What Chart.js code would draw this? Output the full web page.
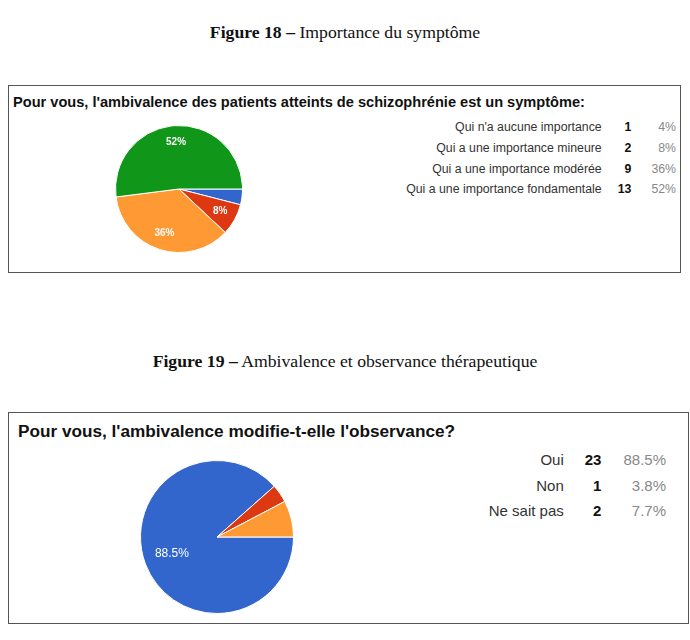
<!DOCTYPE html>
<html>
<head>
<meta charset="utf-8">
<script src="https://cdn.jsdelivr.net/npm/chart.js@4/dist/chart.umd.min.js"></script>
<style>
  html, body { margin: 0; padding: 0; background: #fff; }
  body { width: 690px; height: 640px; position: relative; overflow: hidden; font-family: "Liberation Sans", Arial, sans-serif; }
  .caption { position: absolute; left: 0; width: 690px; text-align: center; font-family: "Liberation Serif", "Times New Roman", serif; font-size: 17.7px; color: #111; }
  .caption b { font-weight: bold; }
  .box { position: absolute; border: 1.5px solid #555; box-sizing: border-box; }
  .box h2 { position: absolute; margin: 0; font-weight: bold; color: #111; white-space: nowrap; }
  .pie { position: absolute; }
  table.legend { position: absolute; border-collapse: collapse; }
  table.legend td { padding: 0; white-space: nowrap; text-align: right; }
  td.lab { color: #333; }
  td.cnt { color: #111; font-weight: bold; }
  td.pct { color: #888; }
</style>
</head>
<body>

<div class="caption" style="top:22px"><b>Figure 18 –</b> Importance du symptôme</div>
<div class="box" style="left:8px; top:85px; width:673px; height:188px">
  <h2 style="left:4px; top:8px; font-size:14.6px">Pour vous, l'ambivalence des patients atteints de schizophrénie est un symptôme:</h2>
</div>
<canvas id="pie1" class="pie" width="130" height="130" style="left:114px; top:124px"></canvas>
<table id="leg1" class="legend" style="right:14px; top:117px; font-size:12.3px"></table>

<div class="caption" style="top:351px"><b>Figure 19 –</b> Ambivalence et observance thérapeutique</div>
<div class="box" style="left:8px; top:412px; width:681px; height:212px">
  <h2 style="left:9px; top:8px; font-size:17.2px">Pour vous, l'ambivalence modifie-t-elle l'observance?</h2>
</div>
<canvas id="pie2" class="pie" width="156" height="156" style="left:139px; top:459px"></canvas>
<table id="leg2" class="legend" style="right:24px; top:447px; font-size:15px"></table>

<script>
// Figure 18
const labels1 = ["Qui n'a aucune importance", "Qui a une importance mineure", "Qui a une importance modérée", "Qui a une importance fondamentale"]
const counts1 = [1, 2, 9, 13]
const colors1 = ["#3366cc", "#dc3912", "#ff9933", "#109618"]

// Figure 19
const labels2 = ["Oui", "Non", "Ne sait pas"]
const counts2 = [23, 1, 2]
const colors2 = ["#3366cc", "#dc3912", "#ff9933"]

const pct = (v, total, dec) => (v / total * 100).toFixed(dec) + "%"

// white percentage labels inside the bigger slices
const sliceLabels = {
  id: "sliceLabels",
  afterDatasetsDraw(chart, args, opts) {
    const ctx = chart.ctx
    const ds = chart.data.datasets[0]
    const total = ds.data.reduce((a, b) => a + b, 0)
    chart.getDatasetMeta(0).data.forEach((arc, i) => {
      const share = ds.data[i] / total * 100
      if (share < opts.minPct) return
      const mid = (arc.startAngle + arc.endAngle) / 2
      const r = arc.outerRadius * opts.radius
      ctx.save()
      ctx.fillStyle = "#fff"
      ctx.font = opts.font
      ctx.textAlign = "center"
      ctx.textBaseline = "middle"
      ctx.fillText(pct(ds.data[i], total, opts.decimals), arc.x + Math.cos(mid) * r, arc.y + Math.sin(mid) * r)
      ctx.restore()
    })
  },
}

function makePie(id, labels, counts, colors, labelOpts) {
  return new Chart(document.getElementById(id), {
    type: "pie",
    data: {
      labels: labels,
      datasets: [{ data: counts, backgroundColor: colors, borderColor: "#fff", borderWidth: 1 }],
    },
    options: {
      responsive: false,
      animation: false,
      rotation: 90,
      layout: { padding: 1 },
      plugins: {
        legend: { display: false },
        tooltip: { enabled: false },
        sliceLabels: labelOpts,
      },
    },
    plugins: [sliceLabels],
  })
}

function makeLegend(id, labels, counts, dec, rowH, gaps) {
  const total = counts.reduce((a, b) => a + b, 0)
  const table = document.getElementById(id)
  labels.forEach((lab, i) => {
    const tr = document.createElement("tr")
    tr.style.height = rowH + "px"
    tr.innerHTML =
      `<td class="lab">${lab}</td>` +
      `<td class="cnt" style="padding-left:${gaps[0]}px">${counts[i]}</td>` +
      `<td class="pct" style="padding-left:${gaps[1]}px">${pct(counts[i], total, dec)}</td>`
    table.appendChild(tr)
  })
}

makePie("pie1", labels1, counts1, colors1, { minPct: 5, radius: 0.74, decimals: 0, font: "bold 10px 'Liberation Sans', Arial" })
makePie("pie2", labels2, counts2, colors2, { minPct: 10, radius: 0.63, decimals: 1, font: "12px 'Liberation Sans', Arial" })

makeLegend("leg1", labels1, counts1, 0, 20.7, [16, 20])
makeLegend("leg2", labels2, counts2, 1, 25.5, [21, 22])
</script>
</body>
</html>
